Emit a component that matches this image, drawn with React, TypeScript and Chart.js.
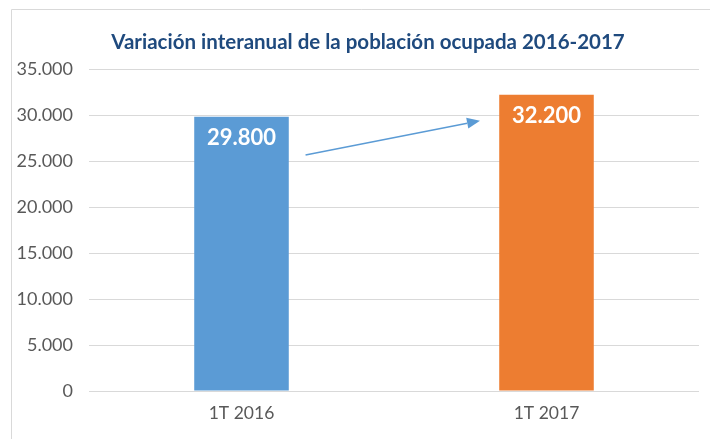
import React, { useEffect, useRef } from "react";
import { Chart, registerables } from "chart.js";

Chart.register(...registerables);

const title = "Variación interanual de la población ocupada 2016-2017";
const categories = ["1T 2016", "1T 2017"];
const values = [29800, 32200];
const barColors = ["#5B9BD5", "#ED7D31"];
const valueLabels = ["29.800", "32.200"];
const yTicks = [0, 5000, 10000, 15000, 20000, 25000, 30000, 35000];
// arrow in data coordinates: [categoryIndex (fractional), value]
const arrowStart = [0.21, 25650];
const arrowEnd = [0.782, 29380];

const fmt = (v: number) => v.toLocaleString("de-DE");

export default function App() {
  const ref = useRef<HTMLCanvasElement>(null);
  useEffect(() => {
    const decor = {
      id: "decor",
      beforeDraw(chart: any) {
        const ctx = chart.ctx;
        ctx.save();
        ctx.strokeStyle = "#d9d9d9";
        ctx.lineWidth = 1;
        ctx.beginPath();
        ctx.moveTo(11.5, 500);
        ctx.lineTo(11.5, 9.5);
        ctx.lineTo(800, 9.5);
        ctx.stroke();
        ctx.fillStyle = "#1F4A7E";
        ctx.font = "bold 20.5px Lato";
        ctx.textAlign = "center";
        ctx.textBaseline = "middle";
        ctx.fillText(title, 368, 42);
        ctx.restore();
      },
      afterDatasetsDraw(chart: any) {
        const ctx = chart.ctx;
        const meta = chart.getDatasetMeta(0);
        ctx.save();
        ctx.fillStyle = "#ffffff";
        ctx.font = "bold 22px Lato";
        ctx.textAlign = "center";
        ctx.textBaseline = "middle";
        meta.data.forEach((bar: any, i: number) => {
          ctx.fillText(valueLabels[i], bar.x, bar.y + 21);
        });
        const xs = chart.scales.x;
        const ys = chart.scales.y;
        const x0 = xs.getPixelForValue(arrowStart[0]);
        const y0 = ys.getPixelForValue(arrowStart[1]);
        const x1 = xs.getPixelForValue(arrowEnd[0]);
        const y1 = ys.getPixelForValue(arrowEnd[1]);
        const ang = Math.atan2(y1 - y0, x1 - x0);
        const hl = 13;
        const hw = 5.5;
        const bx = x1 - hl * Math.cos(ang);
        const by = y1 - hl * Math.sin(ang);
        ctx.strokeStyle = "#5B9BD5";
        ctx.fillStyle = "#5B9BD5";
        ctx.lineWidth = 1.5;
        ctx.beginPath();
        ctx.moveTo(x0, y0);
        ctx.lineTo(bx, by);
        ctx.stroke();
        ctx.beginPath();
        ctx.moveTo(x1, y1);
        ctx.lineTo(bx + hw * Math.sin(ang), by - hw * Math.cos(ang));
        ctx.lineTo(bx - hw * Math.sin(ang), by + hw * Math.cos(ang));
        ctx.closePath();
        ctx.fill();
        ctx.restore();
      },
    };
    const chart = new Chart(ref.current!, {
      type: "bar",
      data: {
        labels: categories,
        datasets: [
          {
            data: values,
            backgroundColor: barColors,
            categoryPercentage: 1,
            barPercentage: 0.31,
          },
        ],
      },
      options: {
        responsive: false,
        animation: false,
        layout: { padding: { top: 69, left: 12, right: 11, bottom: 0 } },
        plugins: { legend: { display: false }, tooltip: { enabled: false }, title: { display: false } },
        scales: {
          x: {
            grid: { display: false, drawTicks: false },
            border: { display: false },
            ticks: { color: "#595959", font: { family: "Lato", size: 17.5 }, padding: 12 },
            afterFit: (s: any) => {
              s.height = 48;
            },
          },
          y: {
            min: 0,
            max: 35000,
            grid: { color: "#d9d9d9", lineWidth: 1, drawTicks: false },
            border: { display: false },
            afterBuildTicks: (s: any) => {
              s.ticks = yTicks.map((v) => ({ value: v }));
            },
            ticks: {
              color: "#595959",
              font: { family: "Lato", size: 18 },
              padding: 16,
              callback: (v: any) => fmt(Number(v)),
            },
            afterFit: (s: any) => {
              s.width = 77;
            },
          },
        },
      },
      plugins: [decor],
    });
    return () => chart.destroy();
  }, []);
  return (
    <div style={{ position: "fixed", left: 0, top: 0, width: 710, height: 439, background: "#fff" }}>
      <canvas ref={ref} width={710} height={439} style={{ display: "block" }} />
    </div>
  );
}
